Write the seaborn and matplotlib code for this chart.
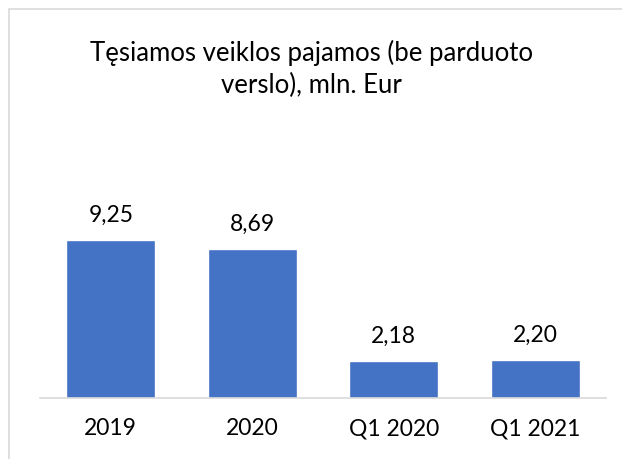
import matplotlib
matplotlib.use("Agg")
import matplotlib.pyplot as plt
import seaborn as sns
import pandas as pd

# duomenys
categories = ["2019", "2020", "Q1 2020", "Q1 2021"]
values = [9.25, 8.69, 2.18, 2.20]
title = "Tęsiamos veiklos pajamos (be parduoto\nverslo), mln. Eur"

sns.set_theme(style="white")
plt.rcParams['font.family'] = ['Lato', 'DejaVu Sans']

df = pd.DataFrame({"Kategorija": categories, "Pajamos": values})

fig = plt.figure(figsize=(6.22, 4.6), dpi=100)
ax = fig.add_axes([40 / 622, 1 - 399 / 460, 566 / 622, 171 / 460])

sns.barplot(data=df, x="Kategorija", y="Pajamos", color="#4472C4",
            saturation=1, width=0.63, ax=ax)
ax.set_ylim(0, 10)
ax.set_xlim(-0.5, 3.5)

# reikšmių etiketės su kableliu
for cont in ax.containers:
    ax.bar_label(cont, labels=[f"{v:.2f}".replace(".", ",") for v in values],
                 padding=11, fontsize=16.5, color="black", clip_on=False)

ax.set_xlabel("")
ax.set_ylabel("")
ax.set_yticks([])
ax.tick_params(axis="x", length=0, pad=14, labelsize=16.5, labelcolor="black")
for s in ["left", "right", "top"]:
    ax.spines[s].set_visible(False)
ax.spines["bottom"].set_color("#d9d9d9")
ax.spines["bottom"].set_linewidth(1.2)

fig.text(0.5, 1 - 69 / 460, title, ha="center", va="center",
         multialignment="center", fontsize=18.5, linespacing=1.35,
         color="black")

# rėmelis aplink diagramą
frame = plt.Rectangle((9 / 622, -0.1), 1.2, 1 - 10 / 460 + 0.1,
                      transform=fig.transFigure, fill=False,
                      edgecolor="#d9d9d9", linewidth=1.2)
fig.add_artist(frame)

fig.savefig("out.png", dpi=100, facecolor="white")
